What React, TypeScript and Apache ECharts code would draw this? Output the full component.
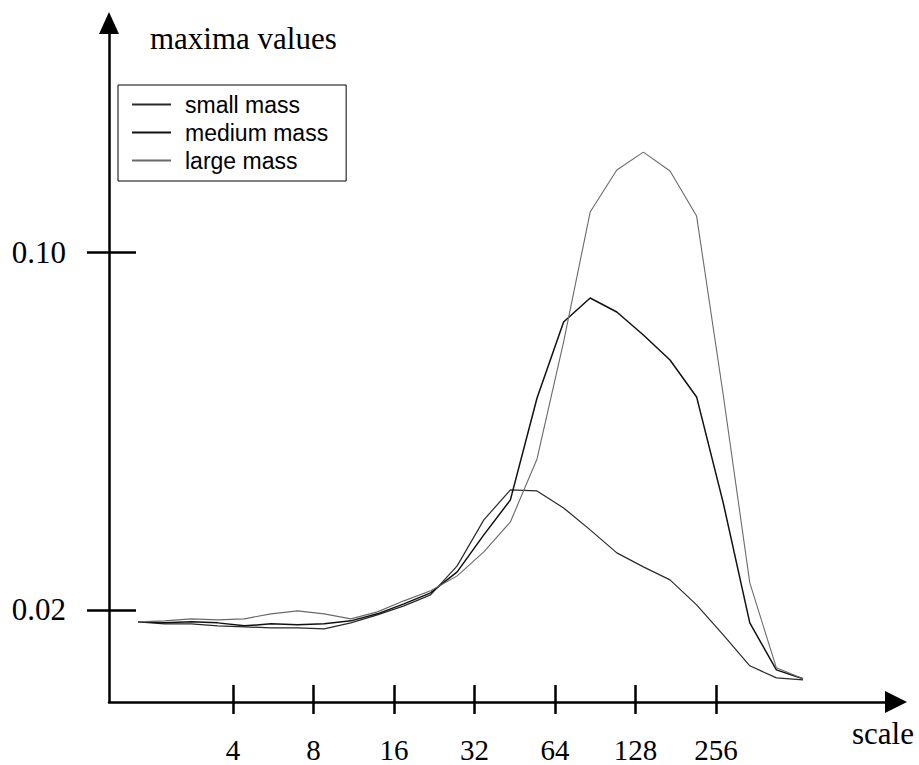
import { useEffect, useRef } from 'react';
import * as echarts from 'echarts';

// x position of each sample, as log2(scale)
const scaleExponent = [
  0.82, 1.15, 1.481, 1.811, 2.142, 2.472, 2.803, 3.133, 3.464, 3.794, 4.124, 4.455, 4.785,
  5.116, 5.446, 5.777, 6.107, 6.437, 6.768, 7.098, 7.429, 7.759, 8.09, 8.42, 8.75, 9.081,
];

const smallMass = [
  0.01732, 0.01687, 0.01687, 0.01642, 0.0162, 0.01598, 0.01598, 0.01575, 0.01709, 0.01888, 0.02089,
  0.02335, 0.02983, 0.04011, 0.04682, 0.04659, 0.04279, 0.03788, 0.03274, 0.02961, 0.0267, 0.02112,
  0.01441, 0.00749, 0.0048, 0.00436,
];

const mediumMass = [
  0.01732, 0.01709, 0.01732, 0.01709, 0.01642, 0.01687, 0.01665, 0.01687, 0.01754, 0.01911, 0.02134,
  0.0238, 0.02849, 0.03676, 0.04458, 0.06737, 0.08436, 0.08972, 0.08659, 0.08145, 0.07587, 0.0676,
  0.04391, 0.01709, 0.00659, 0.00458,
];

const largeMass = [
  0.01732, 0.01754, 0.01799, 0.01777, 0.01799, 0.01911, 0.01978, 0.01911, 0.01799, 0.01955, 0.02201,
  0.02425, 0.0276, 0.03296, 0.03966, 0.05374, 0.07989, 0.10894, 0.11832, 0.12234, 0.1181, 0.10804,
  0.06804, 0.02603, 0.00704, 0.00458,
];

const seriesNames = ['small mass', 'medium mass', 'large mass'];
const xTickExponents = [2, 3, 4, 5, 6, 7, 8];
const yTickValues = [0.02, 0.1];

export default function App() {
  const ref = useRef<HTMLDivElement>(null);

  useEffect(() => {
    if (!ref.current) return;
    const chart = echarts.init(ref.current, null, { renderer: 'svg' });
    const serif = '"Liberation Serif", "Times New Roman", serif';
    const sans = '"Liberation Sans", Arial, sans-serif';
    const xMin = 0.46;
    const xMax = 10.236;
    const yMin = -0.0006;
    const yMax = 0.1512;
    const axisStroke = { color: '#000', width: 2.5 };

    const toPairs = (vals: number[]) => scaleExponent.map((x, i) => [x, vals[i]]);

    chart.setOption({
      animation: false,
      backgroundColor: '#fff',
      grid: { left: 109, right: 23, top: 23, bottom: 63, outerBoundsMode: 'none' },
      xAxis: [
        {
          type: 'value',
          min: xMin,
          max: xMax,
          position: 'bottom',
          axisLine: {
            show: true,
            onZero: false,
            symbol: ['none', 'triangle'],
            symbolSize: [22, 22],
            lineStyle: axisStroke,
          },
          axisTick: { show: true, inside: false, length: 12, customValues: xTickExponents, lineStyle: axisStroke },
          axisLabel: {
            show: true,
            customValues: xTickExponents,
            formatter: (v: number) => String(Math.round(Math.pow(2, v))),
            margin: 33,
            color: '#000',
            fontFamily: serif,
            fontSize: 29,
          },
          splitLine: { show: false },
        },
        {
          type: 'value',
          min: xMin,
          max: xMax,
          position: 'bottom',
          axisLine: { show: false, onZero: false },
          axisTick: { show: true, inside: true, length: 17, customValues: xTickExponents, lineStyle: axisStroke },
          axisLabel: { show: false },
          splitLine: { show: false },
        },
      ],
      yAxis: [
        {
          type: 'value',
          min: yMin,
          max: yMax,
          position: 'left',
          axisLine: {
            show: true,
            onZero: false,
            symbol: ['none', 'triangle'],
            symbolSize: [20, 22],
            lineStyle: axisStroke,
          },
          axisTick: { show: true, inside: false, length: 22, customValues: yTickValues, lineStyle: axisStroke },
          axisLabel: {
            show: true,
            customValues: yTickValues,
            formatter: (v: number) => v.toFixed(2),
            margin: 43,
            color: '#000',
            fontFamily: serif,
            fontSize: 31,
            padding: [12, 0, 0, 0],
          },
          splitLine: { show: false },
        },
        {
          type: 'value',
          min: yMin,
          max: yMax,
          position: 'left',
          axisLine: { show: false, onZero: false },
          axisTick: { show: true, inside: true, length: 27, customValues: yTickValues, lineStyle: axisStroke },
          axisLabel: { show: false },
          splitLine: { show: false },
        },
      ],
      legend: {
        orient: 'vertical',
        left: 118,
        top: 85,
        padding: [8, 18, 9, 13],
        itemWidth: 39,
        itemHeight: 14,
        itemGap: 5,
        borderColor: '#000',
        borderWidth: 1,
        itemStyle: { opacity: 0, borderWidth: 0 },
        textStyle: { fontFamily: sans, fontSize: 23, color: '#000', lineHeight: 22, padding: [0, 0, 0, 9] },
        data: seriesNames,
      },
      graphic: [
        {
          type: 'text',
          x: 150,
          y: 38,
          style: { text: 'maxima values', fontFamily: serif, fontSize: 31, fill: '#000', verticalAlign: 'middle' },
        },
        {
          type: 'text',
          x: 852,
          y: 733,
          style: { text: 'scale', fontFamily: serif, fontSize: 31, fill: '#000', verticalAlign: 'middle' },
        },
      ],
      series: [
        {
          name: seriesNames[0],
          type: 'line',
          symbol: 'none',
          data: toPairs(smallMass),
          lineStyle: { color: '#2a2a2a', width: 1.2 },
          itemStyle: { color: '#2a2a2a' },
        },
        {
          name: seriesNames[1],
          type: 'line',
          symbol: 'none',
          data: toPairs(mediumMass),
          lineStyle: { color: '#111', width: 1.5 },
          itemStyle: { color: '#111' },
        },
        {
          name: seriesNames[2],
          type: 'line',
          symbol: 'none',
          data: toPairs(largeMass),
          lineStyle: { color: '#6a6a6a', width: 1.1 },
          itemStyle: { color: '#6a6a6a' },
        },
      ],
    });

    return () => chart.dispose();
  }, []);

  return (
    <div
      ref={ref}
      style={{ position: 'fixed', left: 0, top: 0, width: 919, height: 765, background: '#fff' }}
    />
  );
}
